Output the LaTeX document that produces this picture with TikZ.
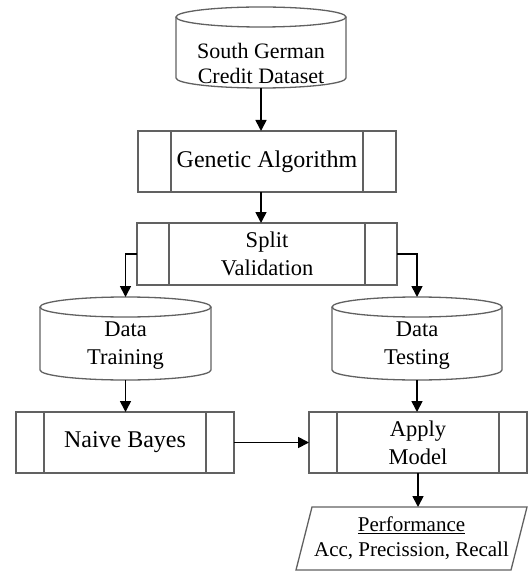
\documentclass[tikz,border=0pt]{standalone}
\usepackage{fontspec}
\setmainfont{Liberation Serif}
\usetikzlibrary{arrows.meta}
\newcommand\cylout[2]{%
  \draw[outl] ([yshift=-10bp]#1.north west) -- ([yshift=10bp]#1.south west)
    arc[start angle=180,end angle=360,x radius=#2,y radius=10bp]
    -- ([yshift=-10bp]#1.north east);
  \draw[outl] ([yshift=-10bp]#1.north) ellipse[x radius=#2,y radius=10bp];
}
\tikzset{
  outl/.style={draw=black!62, line width=1.3bp},
  procbox/.style={outl, rectangle, inner sep=0pt, outer sep=0pt, align=center,
    font=\fontsize{22.5bp}{28bp}\selectfont,
    path picture={\draw[black!62, line width=1.3bp]
      ([xshift=#1]path picture bounding box.north west) -- ([xshift=#1]path picture bounding box.south west)
      ([xshift=-#1]path picture bounding box.north east) -- ([xshift=-#1]path picture bounding box.south east);}},
  procbox/.default=31bp,
  cylbox/.style={rectangle, draw=none, inner sep=0pt, outer sep=0pt},
  cyltext/.style={align=center, inner sep=0pt, font=\fontsize{22.5bp}{28bp}\selectfont},
  arr/.style={draw=black, line width=1.7bp, -{Triangle[length=11bp,width=11bp]}},
}
\begin{document}
\begin{tikzpicture}[x=1bp,y=-1bp]
\useasboundingbox (0,0) rectangle (528,572);
\fill[white] (0,0) rectangle (528,572);

% top cylinder
\node[cylbox, minimum width=170bp, minimum height=81bp] (sgc) at (261,47.5) {};
\cylout{sgc}{85bp}
\node[cyltext, font=\fontsize{22bp}{25bp}\selectfont] (sgct) at (261,63) {South German\\Credit Dataset};

% genetic algorithm
\node[procbox=33bp, minimum width=258bp, minimum height=61bp, font=\fontsize{24bp}{28bp}\selectfont] (ga) at (267,161.5) {Genetic Algorithm};

% split validation
\node[procbox=32bp, minimum width=260bp, minimum height=62bp] (sv) at (267,254) {Split\\Validation};

% data training / testing
\node[cylbox, minimum width=171bp, minimum height=83bp] (dtr) at (125.5,338.5) {};
\cylout{dtr}{85.5bp}
\node[cyltext] (dtrt) at (125.5,346) {Data\\Training};

\node[cylbox, minimum width=170bp, minimum height=83bp] (dte) at (417,338.5) {};
\cylout{dte}{85bp}
\node[cyltext] (dtet) at (417,346) {Data\\Testing};

% naive bayes / apply model
\node[procbox=28bp, minimum width=218bp, minimum height=61bp, font=\fontsize{24bp}{28bp}\selectfont] (nb) at (125,442.5) {Naive Bayes};
\node[procbox=28bp, minimum width=218bp, minimum height=61bp] (am) at (418,442.5) {Apply\\Model};

% performance
\node[cylbox, minimum width=231bp, minimum height=63bp, align=center,
  font=\fontsize{21bp}{25bp}\selectfont] (pf) at (411.5,538.5) {\underline{Performance}\\Acc, Precission, Recall};
\draw[outl] ([xshift=16bp]pf.north west) -- (pf.north east) -- ([xshift=-16bp]pf.south east) -- (pf.south west) -- cycle;

% connectors
\draw[arr] (sgc.south) -- (sgc.south |- ga.north);
\draw[arr] (sgc.south |- ga.south) -- (sgc.south |- sv.north);
\draw[arr] (sv.west) -| (dtr.north);
\draw[arr] (sv.east) -| (dte.north);
\draw[arr] (dtr.south) -- (dtr.south |- nb.north);
\draw[arr] (dte.south) -- (dte.south |- am.north);
\draw[arr] (nb.east) -- (am.west);
\draw[arr] (am.south) -- (am.south |- pf.north);
\end{tikzpicture}
\end{document}
